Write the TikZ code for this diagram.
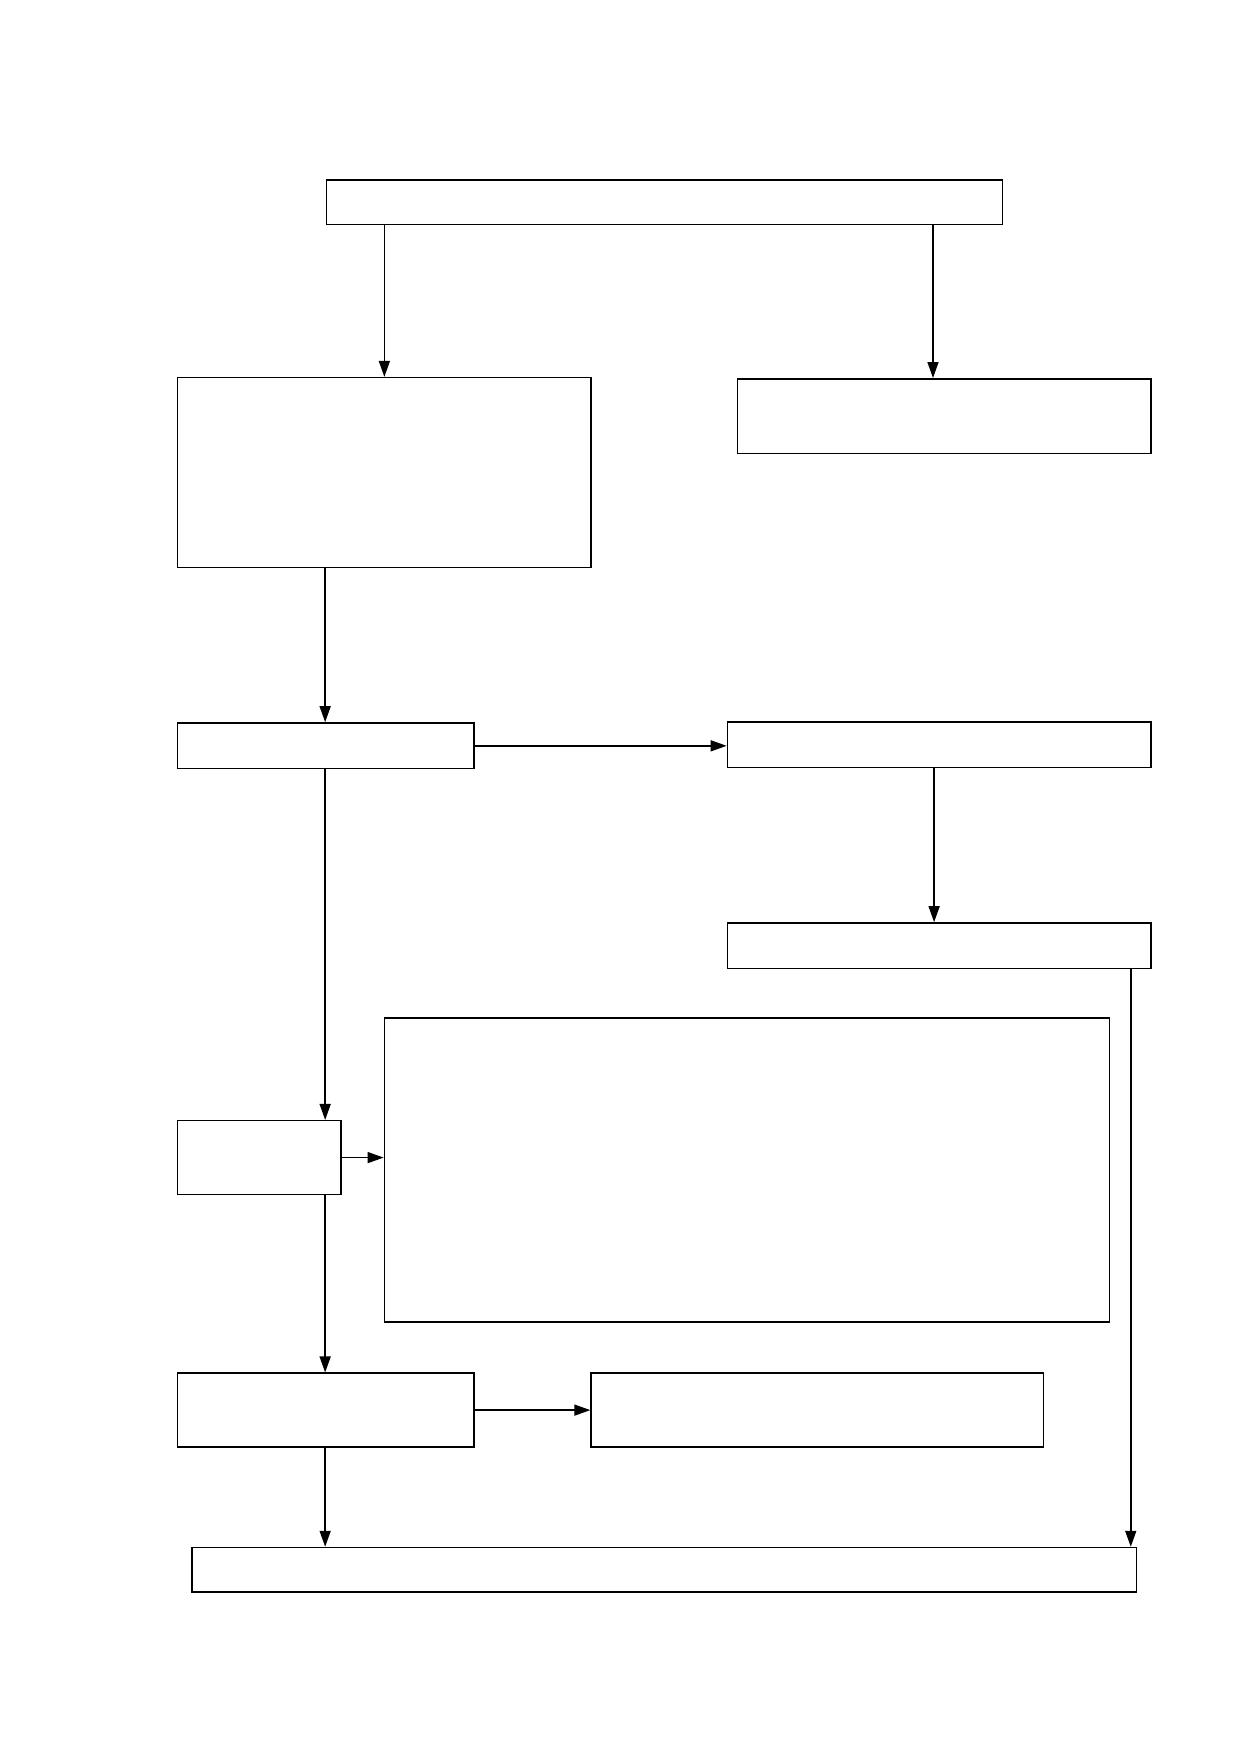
\documentclass[tikz,border=0pt]{standalone}
\usetikzlibrary{arrows.meta,fit}
\begin{document}
\begin{tikzpicture}[x=0.5586pt,y=-0.5586pt,
  box/.style={draw=black,line width=0.75pt,fill=white,inner sep=0pt,rectangle},
  arr/.style={draw=black,line width=0.75pt,-{Triangle[length=8pt,width=5.5pt]}}]
\useasboundingbox (0,0) rectangle (1109,1568);
\node[box,fit={(292,161)(897,201)}] (top) {};
\node[box,fit={(159,338)(529,508)}] (A) {};
\node[box,fit={(660,339)(1030,406)}] (B) {};
\node[box,fit={(159,647)(424,688)}] (C) {};
\node[box,fit={(651,646)(1030,687)}] (D) {};
\node[box,fit={(651,826)(1030,867)}] (E) {};
\node[box,fit={(344,911)(993,1183)}] (F) {};
\node[box,fit={(159,1003)(305,1069)}] (G) {};
\node[box,fit={(159,1229)(424,1295)}] (H) {};
\node[box,fit={(529,1229)(934,1295)}] (I) {};
\node[box,fit={(172,1385)(1017,1425)}] (J) {};
\coordinate (xa) at (344,0);
\coordinate (xb) at (835,0);
\coordinate (xc) at (291,0);
\coordinate (xd) at (836,0);
\coordinate (xe) at (1012,0);
\draw[arr] (xa |- top.south) -- (xa |- A.north);
\draw[arr] (xb |- top.south) -- (xb |- B.north);
\draw[arr] (xc |- A.south) -- (xc |- C.north);
\draw[arr] (C.east) -- (C.east -| D.west);
\draw[arr] (xd |- D.south) -- (xd |- E.north);
\draw[arr] (xc |- C.south) -- (xc |- G.north);
\draw[arr] (G.east) -- (G.east -| F.west);
\draw[arr] (xc |- G.south) -- (xc |- H.north);
\draw[arr] (H.east) -- (H.east -| I.west);
\draw[arr] (xc |- H.south) -- (xc |- J.north);
\draw[arr] (xe |- E.south) -- (xe |- J.north);
\end{tikzpicture}
\end{document}
